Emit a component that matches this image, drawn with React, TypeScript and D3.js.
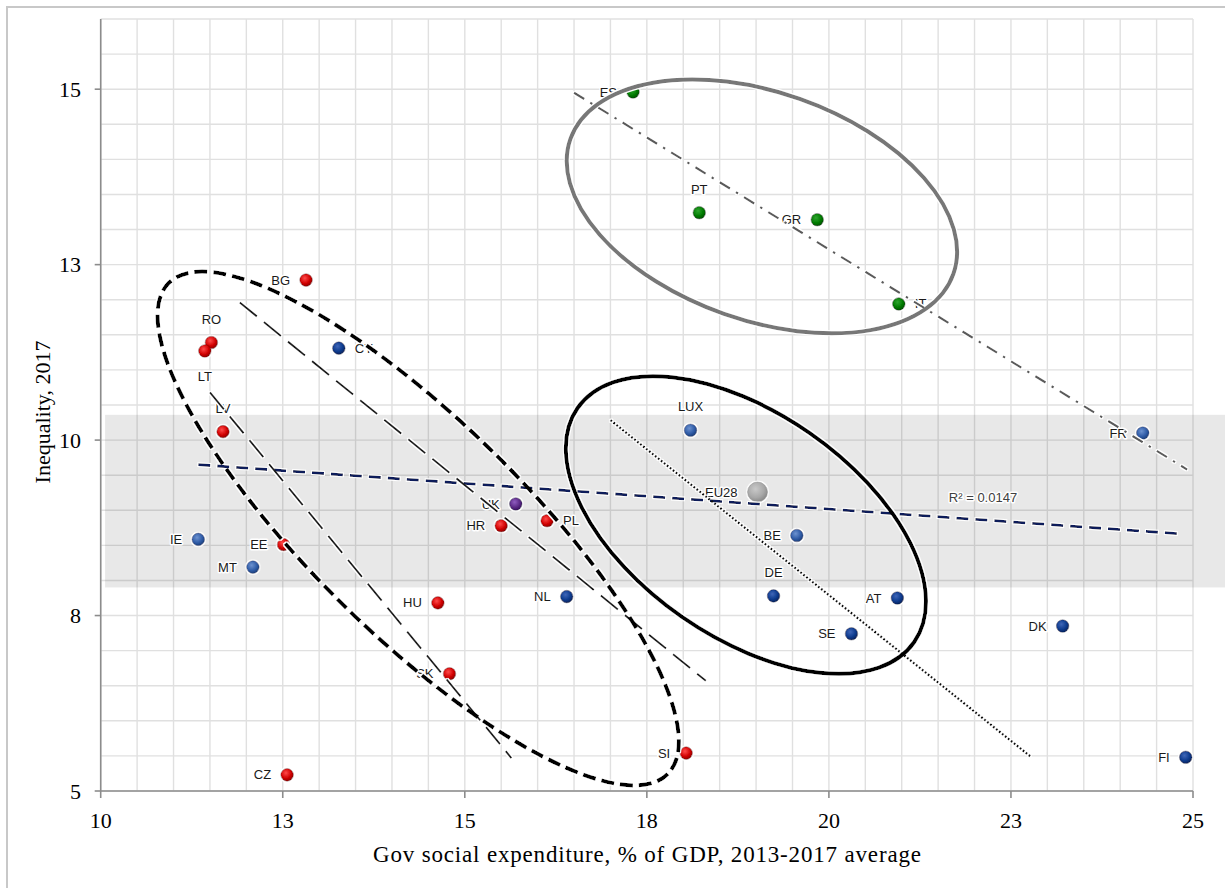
import * as d3 from "d3";

// country codes, x = social expenditure (% GDP), y = inequality
const countries = ["ES", "PT", "GR", "IT", "BG", "RO", "LT", "CY", "LV", "IE", "EE", "MT", "CZ", "UK", "HR", "PL", "HU", "NL", "LUX", "EU28", "BE", "DE", "SE", "AT", "DK", "FI", "FR", "SK", "SI"];
const socialExp = [17.31, 18.22, 19.84, 20.96, 12.82, 11.52, 11.43, 13.27, 11.68, 11.34, 12.51, 12.09, 12.56, 15.7, 15.5, 16.13, 14.63, 16.4, 18.1, 19.02, 19.56, 19.24, 20.31, 20.94, 23.21, 24.9, 24.31, 14.79, 18.04];
const inequality = [14.96, 13.24, 13.14, 11.94, 12.28, 11.39, 11.27, 11.31, 10.12, 8.585, 8.51, 8.19, 5.23, 9.09, 8.78, 8.85, 7.68, 7.77, 10.14, 9.26, 8.64, 7.78, 7.24, 7.75, 7.35, 5.48, 10.1, 6.67, 5.54];
const groups = ["south", "south", "south", "south", "east", "east", "east", "westB", "east", "westA", "east", "westA", "east", "uk", "east", "east", "east", "westB", "westA", "eu", "westA", "westB", "westB", "westB", "westB", "westB", "westA", "east", "east"];
const labelSide = ["left", "above", "left", "right", "left", "above", "below", "right", "above", "left", "left", "left", "left", "left", "left", "right", "left", "left", "above", "left", "left", "above", "left", "left", "left", "left", "left", "left", "left"];

// trend lines, endpoints [x, y]
const trendAll = [[11.34, 9.65], [24.82, 8.665]];
const trendSouth = [[16.5, 14.95], [24.92, 9.58]];
const trendCore = [[17.0, 10.285], [22.77, 5.49]];
const trendEastA = [[11.91, 11.96], [18.31, 6.57]];
const trendEastB = [[11.5, 10.68], [15.64, 5.47]];
const rSquared = "R² = 0.0147";

// shaded band (x range, y range)
const bandX = [10.06, 25.45];
const bandY = [7.9, 10.36];

// cluster ellipses: centre in data units
const clusterCentres = [[19.08, 13.33], [18.86, 8.79], [14.36, 8.74]];

const xTicks = [10, 12.5, 15, 17.5, 20, 22.5, 25];
const yTicks = [5, 7.5, 10, 12.5, 15];

const colors = {
  south: ["#2ea52e", "#007a00", "#005200"],
  east: ["#ff4a4a", "#d00000", "#8f0000"],
  westA: ["#6d92d0", "#2f5ba6", "#1d3f7a"],
  westB: ["#3f66b8", "#0d3a8c", "#06235c"],
  uk: ["#8f5cc0", "#5b2a86", "#3a1460"],
  eu: ["#c9c9c9", "#a8a8a8", "#8a8a8a"],
};

export default function App() {
  const width = 1225;
  const height = 888;
  const x = d3.scaleLinear().domain([10, 25]).range([100.7, 1193]);
  const y = d3.scaleLinear().domain([5, 16]).range([791, 19]);
  const fmt = d3.format(".0f");
  const line = d3.line<number[]>().x((d) => x(d[0])).y((d) => y(d[1]));

  const xGrid = d3.range(10, 25.01, 0.5);
  const yGrid = d3.range(5, 16.01, 0.5);

  const pts = countries.map((c, i) => ({
    name: c,
    x: socialExp[i],
    y: inequality[i],
    group: groups[i],
    side: labelSide[i],
  }));

  const ellipses = [
    { c: clusterCentres[0], rx: 203, ry: 114, angle: 19.4, stroke: "#777", dash: null },
    { c: clusterCentres[1], rx: 205, ry: 112, angle: 34.8, stroke: "#000", dash: null },
    { c: clusterCentres[2], rx: 350, ry: 107, angle: 44.5, stroke: "#000", dash: "13 6" },
  ];

  const labelFont = "'Liberation Sans', Arial, sans-serif";
  const serif = "'Times New Roman', 'Liberation Serif', serif";

  return (
    <svg width={width} height={height} style={{ position: "absolute", left: 0, top: 0, background: "#fff" }}>
      <defs>
        <filter id="glow" filterUnits="userSpaceOnUse" x="0" y="0" width={width} height={height}>
          <feMorphology in="SourceAlpha" operator="dilate" radius="1.2" result="d" />
          <feGaussianBlur in="d" stdDeviation="0.6" result="b" />
          <feFlood floodColor="#fff" />
          <feComposite in2="b" operator="in" result="w" />
          <feMerge>
            <feMergeNode in="w" />
            <feMergeNode in="SourceGraphic" />
          </feMerge>
        </filter>
        {Object.entries(colors).map(([k, c]) => (
          <radialGradient key={k} id={"g-" + k} cx="40%" cy="35%" r="65%">
            <stop offset="0" stopColor={c[0]} />
            <stop offset="0.65" stopColor={c[1]} />
            <stop offset="1" stopColor={c[2]} />
          </radialGradient>
        ))}
      </defs>

      {/* outer frame */}
      <rect x={7} y={7} width={1400} height={1000} fill="none" stroke="#c8c8c8" strokeWidth={2} />

      {/* grid */}
      <g stroke="#e0e0e0" strokeWidth={1.4}>
        {xGrid.map((v) => (
          <line key={"gx" + v} x1={x(v)} x2={x(v)} y1={y(16)} y2={y(5)} />
        ))}
        {yGrid.map((v) => (
          <line key={"gy" + v} x1={x(10)} x2={x(25)} y1={y(v)} y2={y(v)} />
        ))}
      </g>

      {/* shaded band */}
      <rect
        x={x(bandX[0])}
        y={y(bandY[1])}
        width={x(bandX[1]) - x(bandX[0])}
        height={y(bandY[0]) - y(bandY[1])}
        fill="#000"
        fillOpacity={0.09}
      />

      {/* axes */}
      <g stroke="#8c8c8c" strokeWidth={1.6}>
        <line x1={x(10)} x2={x(10)} y1={y(16)} y2={y(5)} />
        <line x1={x(10)} x2={x(25)} y1={y(5)} y2={y(5)} />
        {xTicks.map((t) => (
          <line key={"tx" + t} x1={x(t)} x2={x(t)} y1={y(5)} y2={y(5) + 7} />
        ))}
        {yTicks.map((t) => (
          <line key={"ty" + t} x1={x(10) - 6} x2={x(10)} y1={y(t)} y2={y(t)} />
        ))}
      </g>
      <g fontFamily={serif} fontSize={22} fill="#000">
        {xTicks.map((t) => (
          <text key={"lx" + t} x={x(t)} y={y(5) + 37} textAnchor="middle">
            {fmt(t)}
          </text>
        ))}
        {yTicks.map((t) => (
          <text key={"ly" + t} x={81} y={y(t)} dy="0.35em" textAnchor="end">
            {fmt(t)}
          </text>
        ))}
        <text x={373} y={862} fontSize={23} textLength={548} lengthAdjust="spacing">
          Gov social expenditure, % of GDP, 2013-2017 average
        </text>
        <text transform="translate(50,412) rotate(-90)" textAnchor="middle">
          Inequality, 2017
        </text>
      </g>

      {/* points */}
      <g filter="url(#glow)">
        {pts.map((p) => (
          <circle
            key={p.name}
            cx={x(p.x)}
            cy={y(p.y)}
            r={p.group === "eu" ? 10 : 6.3}
            fill={`url(#g-${p.group})`}
            stroke={colors[p.group as keyof typeof colors][2]}
            strokeWidth={0.6}
          />
        ))}
      </g>

      {/* labels */}
      <g fontFamily={labelFont} fontSize={13} fill="#1a1a1a" stroke="#fff" strokeWidth={3} paintOrder="stroke" strokeLinejoin="round">
        {pts.map((p) => {
          const cx = x(p.x);
          const cy = y(p.y);
          const off = p.group === "eu" ? 20 : 16;
          if (p.side === "left")
            return (
              <text key={"t" + p.name} x={cx - off} y={cy} dy="0.35em" textAnchor="end">
                {p.name}
              </text>
            );
          if (p.side === "right")
            return (
              <text key={"t" + p.name} x={cx + off} y={cy} dy="0.35em">
                {p.name}
              </text>
            );
          if (p.side === "above")
            return (
              <text key={"t" + p.name} x={cx} y={cy - 19} textAnchor="middle">
                {p.name}
              </text>
            );
          return (
            <text key={"t" + p.name} x={cx} y={cy + 30} textAnchor="middle">
              {p.name}
            </text>
          );
        })}
        <text x={983} y={497} dy="0.35em" textAnchor="middle" fill="#404040">
          {rSquared}
        </text>
      </g>

      {/* trend lines and cluster ellipses */}
      <g filter="url(#glow)" fill="none">
        <path d={line(trendAll) ?? ""} stroke="#0b1f5a" strokeWidth={2.8} strokeDasharray="12 7" />
        <path d={line(trendSouth) ?? ""} stroke="#5a5a5a" strokeWidth={2.2} strokeDasharray="12 7 2.5 7" />
        <path d={line(trendCore) ?? ""} stroke="#111" strokeWidth={2.4} strokeDasharray="2 1.8" />
        <path d={line(trendEastA) ?? ""} stroke="#1a1a1a" strokeWidth={2} strokeDasharray="22 9" />
        <path d={line(trendEastB) ?? ""} stroke="#1a1a1a" strokeWidth={2} strokeDasharray="22 9" />
        {ellipses.map((e, i) => {
          const cx = x(e.c[0]);
          const cy = y(e.c[1]);
          return (
            <ellipse
              key={"e" + i}
              cx={cx}
              cy={cy}
              rx={e.rx}
              ry={e.ry}
              transform={`rotate(${e.angle} ${cx} ${cy})`}
              stroke={e.stroke}
              strokeWidth={4}
              strokeDasharray={e.dash ?? undefined}
            />
          );
        })}
      </g>
    </svg>
  );
}
